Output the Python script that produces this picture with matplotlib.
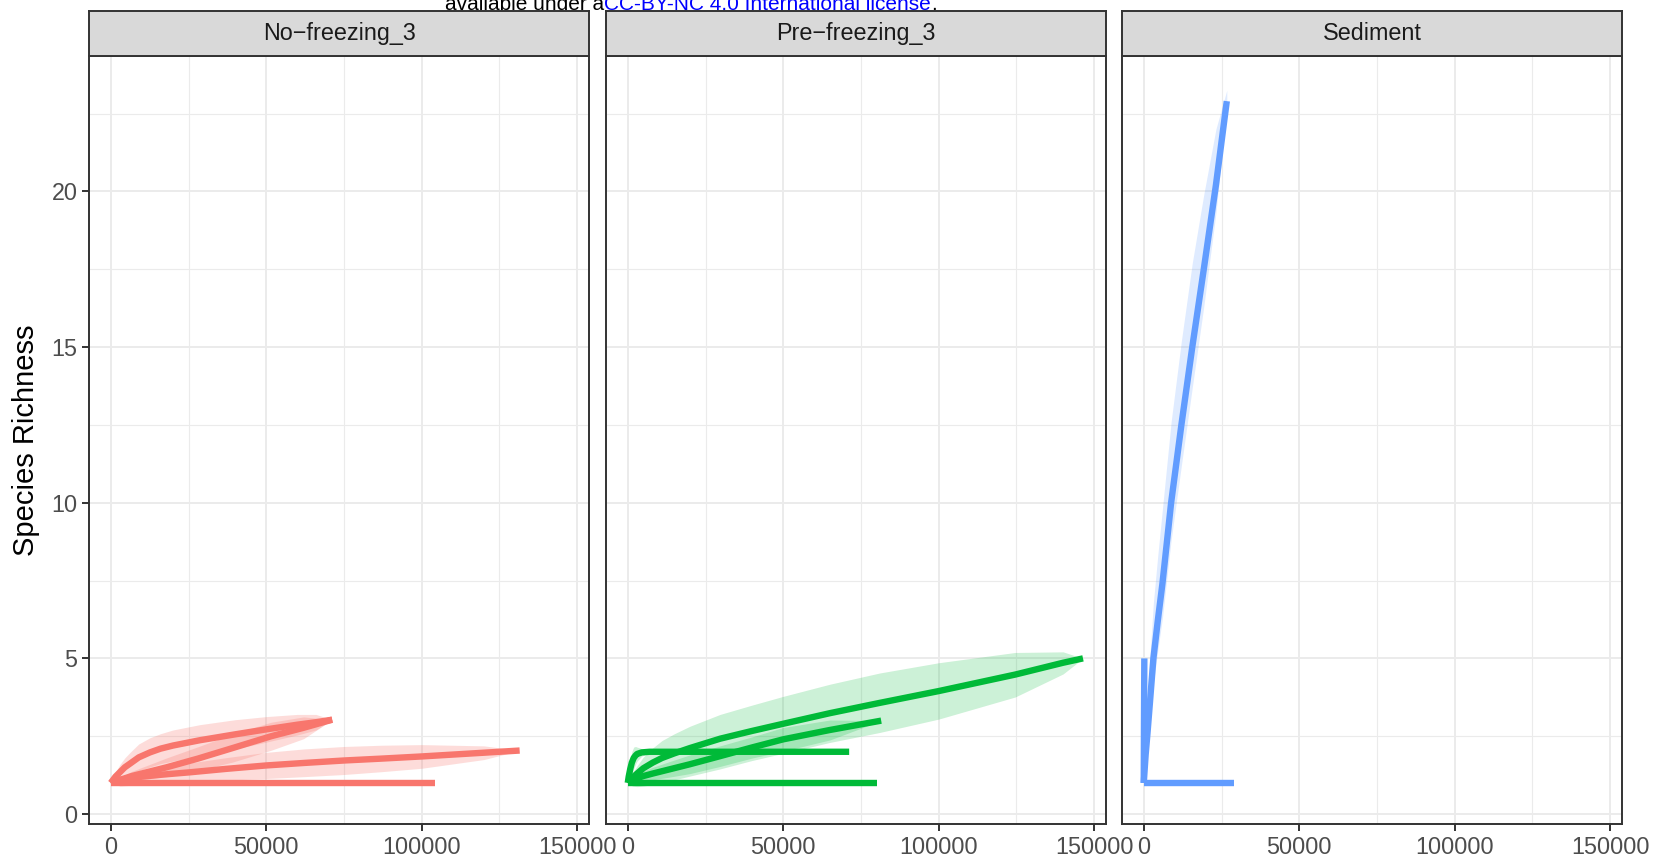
import numpy as np
import matplotlib
matplotlib.use("Agg")
import matplotlib.pyplot as plt

plt.rcParams['font.family'] = ['Liberation Sans', 'DejaVu Sans']

# ---- data (sample size vs species richness) ----
facets = ['No\u2212freezing_3', 'Pre\u2212freezing_3', 'Sediment']
colors = ['#F8766D', '#00BA38', '#619CFF']

# No-freezing_3
nf1_x = [0, 1500, 3000, 4500, 6200, 9000, 12600, 16000, 20000, 28600, 40000, 50000, 60000, 66000, 71200]
nf1_y = [1, 1.2, 1.35, 1.5, 1.62, 1.82, 1.98, 2.1, 2.2, 2.37, 2.56, 2.72, 2.87, 2.95, 3.03]
nf1_lo = [1, 1.05, 1.1, 1.2, 1.26, 1.39, 1.51, 1.62, 1.7, 1.87, 2.09, 2.31, 2.54, 2.7, 3.03]
nf1_hi = [1, 1.35, 1.6, 1.8, 1.98, 2.25, 2.45, 2.58, 2.7, 2.87, 3.03, 3.13, 3.2, 3.2, 3.03]

nf2_x = [0, 6700, 17900, 28000, 39200, 51600, 62000, 71200]
nf2_y = [1, 1.22, 1.5, 1.78, 2.12, 2.5, 2.77, 3.03]
nf2_lo = [1, 1.07, 1.2, 1.4, 1.67, 2.05, 2.42, 3.03]
nf2_hi = [1, 1.37, 1.8, 2.16, 2.57, 2.95, 3.12, 3.03]

nf3_x = [0, 3000, 10000, 17000, 25400, 37000, 49900, 62000, 75000, 87000, 100000, 120000, 131500]
nf3_y = [1, 1.1, 1.2, 1.27, 1.34, 1.45, 1.56, 1.64, 1.72, 1.78, 1.85, 1.97, 2.04]
nf3_lo = [1, 0.9, 0.95, 1.0, 1.04, 1.09, 1.14, 1.2, 1.27, 1.36, 1.47, 1.75, 2.04]
nf3_hi = [1, 1.2, 1.38, 1.52, 1.64, 1.81, 1.98, 2.09, 2.17, 2.21, 2.23, 2.19, 2.04]

nf4_x = [0, 104300]
nf4_y = [1, 1]

# Pre-freezing_3
pf1_x = [0, 1500, 3000, 5000, 8000, 11000, 15000, 20000, 29700, 40000, 50000, 65000, 81000, 100000, 124600, 140000, 146400]
pf1_y = [1, 1.17, 1.3, 1.47, 1.65, 1.8, 1.95, 2.12, 2.42, 2.67, 2.9, 3.24, 3.57, 3.95, 4.48, 4.86, 5.0]
pf1_lo = [1, 0.9, 0.88, 0.9, 0.95, 1.02, 1.1, 1.22, 1.45, 1.72, 1.95, 2.3, 2.62, 3.05, 3.76, 4.5, 5.0]
pf1_hi = [1, 1.32, 1.55, 1.83, 2.12, 2.36, 2.58, 2.82, 3.2, 3.5, 3.78, 4.17, 4.53, 4.86, 5.19, 5.21, 5.0]

pf2_x = [0, 1500, 3000, 5000, 8000, 13600, 20000, 29700, 40000, 50000, 65000, 81500]
pf2_y = [1, 1.08, 1.15, 1.22, 1.3, 1.44, 1.6, 1.86, 2.14, 2.4, 2.7, 3.0]
pf2_lo = [1, 1.01, 1.02, 1.06, 1.1, 1.19, 1.3, 1.53, 1.8, 2.02, 2.38, 3.0]
pf2_hi = [1, 1.15, 1.28, 1.38, 1.5, 1.69, 1.9, 2.19, 2.48, 2.78, 3.02, 3.0]

pf3_x = [0, 300, 800, 1300, 1900, 2500, 3000, 4500, 7000, 71200]
pf3_y = [1, 1.2, 1.45, 1.65, 1.8, 1.88, 1.93, 1.98, 2.0, 2.0]
pf3_lo = [1, 1.0, 1.1, 1.3, 1.45, 1.6, 1.7, 1.86, 1.96, 2.0]
pf3_hi = [1, 1.45, 1.8, 2.0, 2.15, 2.17, 2.15, 2.1, 2.04, 2.0]

pf4_x = [0, 80000]
pf4_y = [1, 1]

# Sediment
sd1_x = [0, 60, 120, 180]
sd1_y = [1, 2.6, 3.9, 5]

sd2_x = [0, 600, 1200, 2000, 3100, 4500, 6000, 8800, 12100, 15600, 19300, 23200, 26700]
sd2_y = [1, 1.9, 2.6, 3.6, 5, 6.2, 7.4, 10, 12.5, 15, 17.5, 20.2, 22.9]
sd2_lo = [1, 1.5, 2.05, 2.9, 4.2, 5.25, 6.3, 8.8, 11.2, 13.7, 16.3, 19.3, 22.7]
sd2_hi = [1, 2.7, 3.8, 5.1, 6.8, 8.3, 9.8, 12.6, 15.2, 17.7, 19.9, 22.0, 23.25]

sd3_x = [0, 28900]
sd3_y = [1, 1]

curves = [
    [(nf1_x, nf1_y, nf1_lo, nf1_hi), (nf2_x, nf2_y, nf2_lo, nf2_hi),
     (nf3_x, nf3_y, nf3_lo, nf3_hi), (nf4_x, nf4_y, None, None)],
    [(pf1_x, pf1_y, pf1_lo, pf1_hi), (pf2_x, pf2_y, pf2_lo, pf2_hi),
     (pf3_x, pf3_y, pf3_lo, pf3_hi), (pf4_x, pf4_y, None, None)],
    [(sd1_x, sd1_y, None, None), (sd2_x, sd2_y, sd2_lo, sd2_hi),
     (sd3_x, sd3_y, None, None)],
]
ribbon_alpha = [0.25, 0.2, 0.2]

x_major = [0, 50000, 100000, 150000]
x_minor = [25000, 75000, 125000]
y_major = [0, 5, 10, 15, 20]
y_minor = [2.5, 7.5, 12.5, 17.5, 22.5]

W, H = 1667, 863
panel_left = [89, 606, 1122]
panel_w = 500
panel_top, panel_bot = 56, 824
strip_top = 11

fig = plt.figure(figsize=(W / 100, H / 100), dpi=100)
border = '#333333'

def draw_panel(ax, lines, color, alpha):
    for x, y, lo, hi in lines:
        if lo is not None:
            ax.fill_between(x, lo, hi, color=color, alpha=alpha, lw=0)
    for x, y, lo, hi in lines:
        ax.plot(x, y, color=color, lw=4.6, solid_capstyle='butt',
                solid_joinstyle='round')

for i in range(3):
    l = panel_left[i] / W
    b = 1 - panel_bot / H
    h = (panel_bot - panel_top) / H
    ax = fig.add_axes([l, b, panel_w / W, h])
    draw_panel(ax, curves[i], colors[i], ribbon_alpha[i])
    ax.set_xlim(-7000, 153800)
    ax.set_ylim(-0.32, 24.35)
    ax.set_xticks(x_major)
    ax.set_xticks(x_minor, minor=True)
    ax.set_xticklabels([str(v) for v in x_major])
    ax.set_yticks(y_major)
    ax.set_yticks(y_minor, minor=True)
    ax.grid(which='major', color='#EBEBEB', lw=1.4)
    ax.grid(which='minor', color='#EBEBEB', lw=0.8)
    ax.set_axisbelow(True)
    for s in ax.spines.values():
        s.set_color(border)
        s.set_linewidth(1.4)
    ax.tick_params(which='major', length=5.3, width=1.4, color=border,
                   labelsize=16.8, labelcolor='#4D4D4D', pad=3)
    ax.tick_params(which='minor', length=0)
    if i > 0:
        ax.tick_params(axis='y', left=False, labelleft=False)

    sax = fig.add_axes([l, 1 - panel_top / H, panel_w / W, (panel_top - strip_top) / H])
    sax.set_facecolor('#D9D9D9')
    sax.set_xticks([])
    sax.set_yticks([])
    for s in sax.spines.values():
        s.set_color(border)
        s.set_linewidth(1.4)
    sax.text(0.5, 0.5, facets[i], ha='center', va='center', fontsize=16.8,
             color='#1A1A1A', transform=sax.transAxes)

fig.text(26 / W, 1 - 440 / H, 'Species Richness', rotation=90, ha='center',
         va='center', fontsize=21, color='black')

# license watermark, cut off at the top edge as in the source
t1 = fig.text(604 / W, 1 - 10 / H, 'available under a', ha='right', va='baseline',
              fontsize=15, color='black')
t2 = fig.text(604 / W, 1 - 10 / H, 'CC-BY-NC 4.0 International license', ha='left',
              va='baseline', fontsize=15, color='#0000FF')
fig.canvas.draw()
bb = t2.get_window_extent()
fig.text(bb.x1 / W, 1 - 10 / H, '.', ha='left', va='baseline', fontsize=15, color='black')

fig.savefig('out.png', dpi=100)
